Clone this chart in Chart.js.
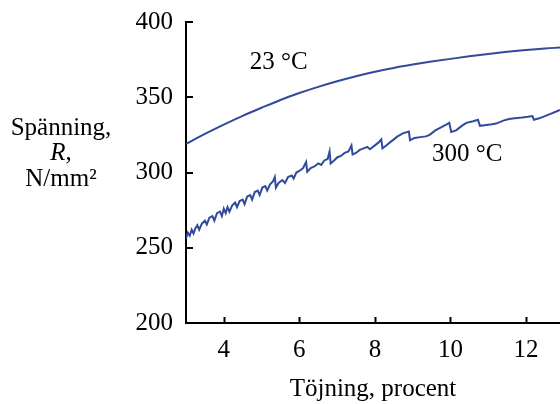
<!DOCTYPE html>
<html>
<head>
<meta charset="utf-8">
<script src="https://cdn.jsdelivr.net/npm/chart.js@4"></script>
<style>
html,body{margin:0;padding:0;background:#fff;}
#c{display:block;}
</style>
</head>
<body>
<canvas id="c" width="560" height="404"></canvas>
<script>
const xTicks = [4, 6, 8, 10, 12];
const yTicks = [200, 250, 300, 350, 400];

const strain23 = [3.0, 3.5, 4.0, 4.5, 5.0, 5.5, 6.0, 6.5, 7.0, 7.5, 8.0, 8.5, 9.0, 9.5, 10.0, 10.5, 11.0, 11.5, 12.0, 12.5, 12.9];
const stress23 = [319, 325.6, 331.8, 337.6, 343, 348.2, 352.8, 356.9, 360.6, 364, 367, 369.5, 371.7, 373.7, 375.5, 377.2, 378.8, 380.2, 381.4, 382.4, 383];

const strain300 = [3.00, 3.05, 3.10, 3.15, 3.20, 3.25, 3.30, 3.35, 3.42, 3.50, 3.55, 3.62, 3.70, 3.75, 3.82, 3.90, 3.95, 4.00, 4.05, 4.10,
  4.15, 4.22, 4.30, 4.35, 4.42, 4.50, 4.55, 4.62, 4.70, 4.75, 4.82, 4.90, 4.95, 5.02, 5.10, 5.15, 5.22, 5.30, 5.35, 5.38,
  5.45, 5.55, 5.62, 5.70, 5.80, 5.85, 5.92, 6.00, 6.10, 6.18, 6.21, 6.30, 6.40, 6.50, 6.58, 6.66, 6.75, 6.80, 6.83, 6.92,
  7.00, 7.10, 7.20, 7.30, 7.38, 7.41, 7.50, 7.60, 7.70, 7.80, 7.87, 8.00, 8.10, 8.17, 8.20, 8.30, 8.40, 8.50, 8.60, 8.74,
  8.90, 8.93, 9.05, 9.20, 9.35, 9.45, 9.60, 9.75, 9.90, 9.97, 10.02, 10.15, 10.30, 10.42, 10.60, 10.73, 10.78, 10.95, 11.10, 11.21,
  11.40, 11.55, 11.70, 11.90, 12.05, 12.17, 12.21, 12.35, 12.50, 12.65, 12.80, 12.90];
const stress300 = [256, 260, 258, 262, 259.5, 263, 265, 262, 266, 268, 265.5, 270, 271, 268, 273, 274, 271, 276, 273, 277,
  274, 278, 280, 277, 281, 282, 279, 284, 285, 282, 287, 288, 285, 290, 291, 288, 292, 294, 297, 290,
  293, 295, 293, 297, 298, 296, 300, 301, 303, 307, 300.5, 303, 304, 306, 305, 308, 309, 314, 306, 308,
  310, 311, 313, 314, 318, 312, 313, 315, 316, 317, 315.5, 318, 320, 322, 316, 318, 320, 322, 324, 326,
  327.2, 321.5, 323, 323.5, 324, 325, 328, 330, 332, 333, 327, 328, 331, 333, 334, 335, 331, 331.5, 332, 332.5,
  334.5, 335.5, 336, 336.5, 337, 337.5, 335, 336, 337.5, 339, 340.5, 341.5];

const seriesLabels = ['23 °C', '300 °C'];
const labelAnchors = [[4.69, 372.8], [9.51, 311.7]];

const lineColor = 'rgb(50, 74, 155)';
const FONT = '"Liberation Serif", "Times New Roman", serif';

const pts = (xs, ys) => xs.map((x, i) => ({x: x, y: ys[i]}));

const overlay = {
  id: 'overlay',
  afterDraw(chart) {
    const ctx = chart.ctx;
    const xs = chart.scales.x, ys = chart.scales.y;
    const a = chart.chartArea;
    ctx.save();
    ctx.strokeStyle = '#000';
    ctx.lineWidth = 2;
    ctx.beginPath();
    xTicks.forEach(v => {
      const px = Math.round(xs.getPixelForValue(v)) + 0.5;
      ctx.moveTo(px, a.bottom);
      ctx.lineTo(px, a.bottom - 6);
    });
    yTicks.forEach(v => {
      const py = Math.round(ys.getPixelForValue(v));
      ctx.moveTo(a.left, py);
      ctx.lineTo(a.left + 7, py);
    });
    ctx.stroke();

    ctx.fillStyle = '#000';
    ctx.font = '25px ' + FONT;
    ctx.textBaseline = 'middle';
    ctx.textAlign = 'left';
    seriesLabels.forEach((t, i) => {
      ctx.fillText(t, xs.getPixelForValue(labelAnchors[i][0]), ys.getPixelForValue(labelAnchors[i][1]));
    });

    // y axis title (three lines)
    ctx.textBaseline = 'alphabetic';
    ctx.textAlign = 'center';
    const cx = 61;
    ctx.fillText('Spänning,', cx, 135);
    ctx.font = 'italic 25px ' + FONT;
    const wR = ctx.measureText('R').width;
    ctx.font = '25px ' + FONT;
    const wC = ctx.measureText(',').width;
    const startX = cx - (wR + wC) / 2;
    ctx.textAlign = 'left';
    ctx.font = 'italic 25px ' + FONT;
    ctx.fillText('R', startX, 160);
    ctx.font = '25px ' + FONT;
    ctx.fillText(',', startX + wR, 160);
    ctx.textAlign = 'center';
    ctx.fillText('N/mm²', cx, 186);
    ctx.restore();
  }
};

new Chart(document.getElementById('c'), {
  type: 'scatter',
  data: {
    datasets: [
      {data: pts(strain23, stress23), showLine: true, borderColor: lineColor, borderWidth: 2, pointRadius: 0, cubicInterpolationMode: 'monotone', fill: false},
      {data: pts(strain300, stress300), showLine: true, borderColor: lineColor, borderWidth: 2, pointRadius: 0, tension: 0, fill: false}
    ]
  },
  options: {
    responsive: false,
    animation: false,
    events: [],
    layout: {padding: {top: 22, left: 0, right: 0, bottom: 0}},
    plugins: {legend: {display: false}, tooltip: {enabled: false}},
    scales: {
      x: {
        type: 'linear',
        min: 3, max: 12.9,
        afterBuildTicks: s => { s.ticks = xTicks.map(v => ({value: v})); },
        afterFit: s => { s.height = 81; s.paddingLeft = 0; s.paddingRight = 0; },
        grid: {display: false, drawTicks: false},
        border: {display: true, color: '#000', width: 2},
        ticks: {color: '#000', font: {family: FONT, size: 25}, padding: 12, maxRotation: 0, autoSkip: false},
        title: {display: true, text: 'Töjning, procent', color: '#000', font: {family: FONT, size: 25}, padding: {top: 0, bottom: 0}}
      },
      y: {
        type: 'linear',
        min: 200, max: 400,
        afterBuildTicks: s => { s.ticks = yTicks.map(v => ({value: v})); },
        afterFit: s => { s.width = 186; s.paddingTop = 0; s.paddingBottom = 0; },
        grid: {display: false, drawTicks: false},
        border: {display: true, color: '#000', width: 2},
        ticks: {color: '#000', font: {family: FONT, size: 25}, padding: 13}
      }
    }
  },
  plugins: [overlay]
});
</script>
</body>
</html>
